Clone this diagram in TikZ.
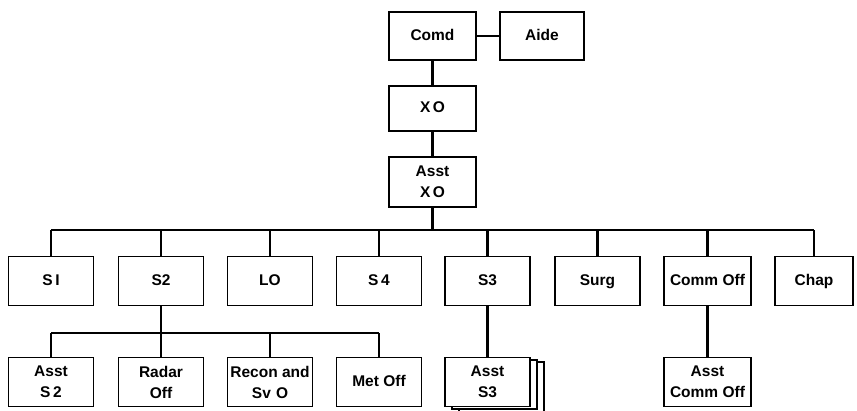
\documentclass[tikz,border=0pt]{standalone}
\usepackage{fontspec}
\setmainfont{Liberation Sans}
\begin{document}
\begin{tikzpicture}[x=1pt,y=-1pt,
  box/.style={draw,line width=1.6pt,rectangle,minimum width=85pt,minimum height=49pt,inner sep=1pt,align=center,font=\bfseries\fontsize{15.5}{21}\selectfont,fill=white},
  one/.style={text height=11.5pt,text depth=3pt},
  link/.style={line width=2.6pt}]
\useasboundingbox (0,0) rectangle (857,410);
% top chain
\node[box,one,minimum width=87pt,minimum height=48pt] (comd) at (432.5,36) {Comd};
\node[box,one,minimum width=84pt,minimum height=48pt] (aide) at (542,36) {Aide};
\node[box,one,minimum width=87pt,minimum height=45pt] (xo) at (432.5,108.5) {X\,O};
\node[box,minimum width=87pt,minimum height=50pt] (axo) at (432.5,182) {Asst\\X\,O};
% first row
\node[box,one] (s1) at (51,281) {S\,I};
\node[box,one] (s2) at (161,281) {S2};
\node[box,one] (lo) at (270,281) {LO};
\node[box,one] (s4) at (379,281) {S\,4};
\node[box,one] (s3) at (487.5,281) {S3};
\node[box,one] (surg) at (597.5,281) {Surg};
\node[box,one,minimum width=87pt] (comm) at (707.5,281) {Comm Off};
\node[box,one,minimum width=78pt] (chap) at (814,281) {Chap};
% second row (stack behind Asst S3)
\draw[line width=1.4pt,fill=white] (459,362) rectangle (544,412);
\draw[line width=1.4pt,fill=white] (452,360) rectangle (537,409);
\node[box] (as3) at (487.5,382) {Asst\\S3};
\node[box] (as2) at (51,382) {Asst\\S\,2};
\node[box] (radar) at (161,382) {Radar\\Off};
\node[box] (recon) at (270,382) {Recon and\\Sv\,\,O};
\node[box,one] (met) at (379,382) {Met Off};
\node[box,minimum width=87pt] (acomm) at (707.5,382) {Asst\\Comm Off};
% connectors
\coordinate (bus) at (432.5,230);
\coordinate (bus2) at (161,333);
\draw[link] (comd) -- (aide);
\draw[link] (comd) -- (xo);
\draw[link] (xo) -- (axo);
\draw[link] (axo) -- (bus);
\draw[link] (s1.north |- bus) -- (chap.north |- bus);
\foreach \n in {s1,s2,lo,s4,s3,surg,comm,chap}
  \draw[link] (\n.north |- bus) -- (\n.north);
\draw[link] (s2) -- (bus2);
\draw[link] (as2.north |- bus2) -- (met.north |- bus2);
\foreach \n in {as2,radar,recon,met}
  \draw[link] (\n.north |- bus2) -- (\n.north);
\draw[link] (s3) -- (as3);
\draw[link] (comm) -- (acomm);
\end{tikzpicture}
\end{document}
